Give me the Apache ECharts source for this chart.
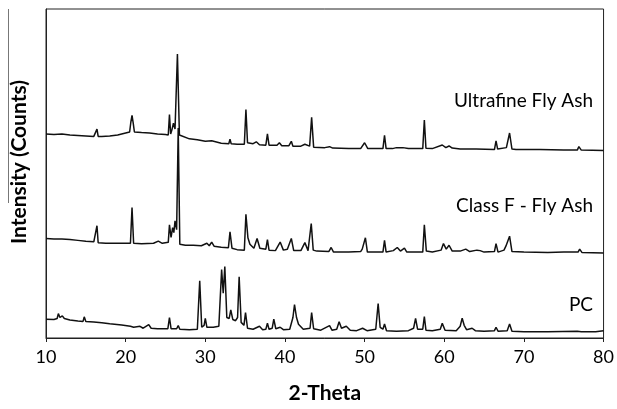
<!DOCTYPE html>
<html>
<head>
<meta charset="utf-8">
<script src="https://cdn.jsdelivr.net/npm/echarts@6/dist/echarts.min.js"></script>
<style>
    html, body { margin: 0; padding: 0; background: #fff; }
    #xrd { width: 617px; height: 409px; }
</style>
</head>
<body>
<div id="xrd"></div>
<script>
// 2-Theta tick labels
var xTicks = [10, 20, 30, 40, 50, 60, 70, 80];
var seriesNames = ['Ultrafine Fly Ash', 'Class F - Fly Ash', 'PC'];

// [2-Theta, intensity] (traces already offset)
var ultrafine = [
    [10.0, 209], [11.0, 208.5], [12.0, 209], [13.0, 208], [14.0, 207.5], [15.0, 207], [16.0, 206.5],
    [16.25, 206.5], [16.4, 214], [16.55, 206.5], [17.0, 206.5], [18.0, 207], [19.0, 208], [20.0, 210],
    [20.5, 211], [20.65, 221], [20.8, 228], [20.95, 220], [21.1, 211], [22.0, 210.5], [23.0, 210],
    [24.0, 209], [25.0, 208.5], [25.35, 208], [25.5, 229], [25.65, 209], [25.8, 213], [26.0, 220],
    [26.2, 214], [26.5, 291], [26.75, 208], [27.0, 206], [28.0, 204], [29.0, 203], [30.0, 201.5],
    [30.8, 202], [31.0, 200.5], [32.0, 199.5], [32.95, 199], [33.1, 203.7], [33.25, 199], [34.0, 198.5],
    [34.9, 198.5], [35.1, 234], [35.3, 200], [36.0, 199], [36.4, 201], [36.8, 198], [37.6, 197.5],
    [37.8, 209], [38.0, 197.5], [39.0, 197.5], [39.3, 200], [39.6, 197], [40.5, 197], [40.8, 201.5],
    [41.0, 196.5], [42.0, 196.5], [42.5, 198.5], [43.1, 196.5], [43.35, 226], [43.6, 195.5], [45.0, 195],
    [45.6, 196], [46.0, 194.5], [48.0, 194], [49.5, 194], [50.0, 200], [50.4, 194], [52.3, 194],
    [52.5, 207.7], [52.7, 194], [53.5, 194], [54.0, 195], [54.8, 195], [55.5, 194], [57.3, 194],
    [57.5, 223.3], [57.7, 194.3], [58.5, 194], [59.75, 197.7], [60.2, 195], [60.6, 196.7], [61.0, 194.5],
    [61.2, 195.5], [62.0, 193.5], [64.0, 193.5], [66.3, 193], [66.5, 202], [66.7, 193.5], [67.8, 195],
    [68.2, 210], [68.5, 193.5], [69.0, 193], [72.0, 193], [75.0, 192.5], [76.7, 192.5], [76.9, 196],
    [77.2, 192.5], [80.0, 192]
];

var classF = [
    [10.0, 102], [11.0, 101.5], [12.0, 101.5], [13.0, 101], [14.0, 100], [15.0, 99], [16.0, 98.5],
    [16.25, 98], [16.4, 115], [16.55, 97.5], [17.5, 97], [19.0, 97], [20.6, 97], [20.8, 133.7],
    [21.0, 97], [22.0, 96.5], [23.5, 97], [24.1, 99.3], [24.6, 97], [25.35, 98], [25.5, 116],
    [25.7, 103], [25.9, 113], [26.05, 108], [26.2, 120], [26.4, 111], [26.6, 215], [26.8, 96],
    [27.5, 95], [28.5, 95], [29.5, 94.5], [30.2, 97], [30.5, 94.5], [30.8, 98.3], [31.1, 94],
    [32.0, 93], [32.9, 92.5], [33.1, 108.7], [33.35, 92], [34.0, 90.5], [34.9, 90], [35.1, 126.7],
    [35.35, 102.7], [35.6, 96], [36.1, 92], [36.5, 102], [36.85, 92], [37.6, 91], [37.8, 100.7],
    [38.0, 90], [38.8, 89.5], [39.4, 98.3], [39.8, 90], [40.3, 91], [40.5, 93], [40.8, 102],
    [41.1, 89.5], [42.0, 89.5], [42.5, 97.7], [42.9, 89.5], [43.1, 91], [43.3, 117.3], [43.55, 90],
    [44.0, 89], [45.5, 88.5], [45.8, 92.7], [46.1, 88], [48.0, 88], [49.5, 88.5], [49.7, 91],
    [49.9, 89], [50.1, 102.7], [50.35, 88], [52.3, 88], [52.5, 100], [52.7, 88], [53.6, 89.5],
    [54.1, 92.7], [54.5, 89], [55.0, 92], [55.3, 88], [57.3, 88], [57.5, 116], [57.75, 89],
    [58.5, 88], [59.6, 90], [59.9, 96.7], [60.25, 91], [60.6, 95], [61.0, 89], [62.0, 89],
    [62.7, 91], [63.2, 88.5], [64.1, 90], [64.5, 89.5], [65.0, 88], [66.3, 88.5], [66.5, 96.7],
    [66.75, 88], [67.5, 90], [67.75, 94.3], [68.0, 96], [68.2, 104.3], [68.5, 88.5], [70.0, 88],
    [73.0, 87.5], [75.0, 88], [76.8, 88], [77.0, 91], [77.3, 87.5], [80.0, 87]
];

var pc = [
    [10.0, 19.3], [11.0, 19], [11.4, 20], [11.55, 25], [11.75, 21], [12.05, 22.7], [12.3, 20],
    [13.0, 18.5], [14.0, 17.5], [14.65, 17], [14.8, 21.7], [15.0, 17], [16.0, 16.5], [17.0, 15.5],
    [18.0, 14.5], [19.5, 13.3], [20.6, 12], [21.0, 11], [21.8, 12], [22.2, 10], [22.9, 13.7],
    [23.2, 10], [24.0, 9.5], [25.3, 9.5], [25.5, 21], [25.7, 9.5], [26.4, 9.5], [26.6, 12.7],
    [26.8, 9], [28.0, 8.5], [29.0, 9], [29.3, 58.7], [29.55, 11], [29.85, 13], [30.0, 20],
    [30.2, 11], [31.0, 11], [31.7, 12], [32.05, 70], [32.25, 46], [32.45, 73.3], [32.7, 21],
    [33.0, 20], [33.2, 28.7], [33.45, 19], [33.8, 17.7], [34.05, 21], [34.25, 62.7], [34.5, 16],
    [34.85, 13], [35.05, 26], [35.3, 10], [36.0, 9], [36.8, 12], [37.2, 8.5], [37.6, 9],
    [37.8, 15.3], [38.0, 9], [38.4, 10], [38.6, 19.3], [38.85, 9.5], [39.4, 11], [39.8, 8.5],
    [40.6, 9], [41.0, 21], [41.2, 34.3], [41.45, 21], [41.7, 14], [42.3, 9], [43.15, 10],
    [43.35, 26], [43.6, 9.5], [44.5, 8], [45.6, 12.7], [45.9, 8], [46.5, 9], [46.8, 16.7],
    [47.1, 10], [47.7, 12], [48.2, 8], [49.0, 7.5], [49.75, 10], [50.3, 7.5], [51.4, 9],
    [51.7, 35.3], [51.95, 11], [52.3, 9], [52.5, 14.3], [52.75, 7.5], [54.0, 7], [55.5, 7.5],
    [56.15, 10], [56.4, 20], [56.65, 9], [57.3, 9], [57.5, 22], [57.7, 8], [58.5, 7.5],
    [59.5, 9], [59.75, 15], [60.1, 8], [61.5, 7.5], [62.0, 12], [62.25, 20.3], [62.5, 13],
    [62.8, 8.5], [63.5, 10], [63.9, 7.5], [65.0, 7], [66.3, 7.5], [66.5, 11], [66.75, 7],
    [67.9, 7.5], [68.2, 14.3], [68.5, 7], [70.0, 6.5], [73.0, 6.5], [76.7, 7], [76.9, 7.7],
    [77.2, 6.5], [79.0, 6.5], [80.0, 7.5]
];

var chart = echarts.init(document.getElementById('xrd'));

function traceSeries(name, data) {
    return {
        name: name,
        type: 'line',
        data: data,
        showSymbol: false,
        symbol: 'none',
        lineStyle: { color: '#111', width: 1.5 },
        animation: false
    };
}

var option = {
    backgroundColor: '#fff',
    animation: false,
    grid: {
        left: 46,
        right: 11,
        top: 9,
        bottom: 63,
        show: true,
        borderColor: '#222',
        borderWidth: 1
    },
    xAxis: {
        type: 'value',
        min: xTicks[0],
        max: xTicks[xTicks.length - 1],
        interval: 10,
        name: '2-Theta',
        nameLocation: 'middle',
        nameGap: 45,
        nameTextStyle: { fontFamily: 'Lato', fontWeight: 'bold', fontSize: 21, color: '#000' },
        axisLine: { lineStyle: { color: '#222', width: 1 } },
        axisTick: { show: true, inside: false, length: 4, lineStyle: { color: '#222' } },
        axisLabel: { fontFamily: 'Lato', fontSize: 18, color: '#000', margin: 10 },
        splitLine: { show: false }
    },
    yAxis: {
        type: 'value',
        min: 0,
        max: 337,
        axisLine: { show: true, lineStyle: { color: '#222', width: 1 } },
        axisTick: { show: false },
        axisLabel: { show: false },
        splitLine: { show: false }
    },
    graphic: [{
        type: 'text',
        left: 9,
        top: 80,
        rotation: Math.PI / 2,
        style: {
            text: 'Intensity (Counts)',
            fontFamily: 'Lato',
            fontWeight: 'bold',
            fontSize: 21,
            fill: '#000'
        }
    }, {
        type: 'line',
        shape: { x1: 8.5, y1: 9, x2: 8.5, y2: 203 },
        style: { stroke: '#777', lineWidth: 1 }
    }, {
        type: 'text',
        right: 24,
        top: 91,
        style: { text: seriesNames[0], fontFamily: 'Lato', fontSize: 19, fill: '#000' }
    }, {
        type: 'text',
        right: 24,
        top: 196,
        style: { text: seriesNames[1], fontFamily: 'Lato', fontSize: 19, fill: '#000' }
    }, {
        type: 'text',
        right: 24,
        top: 295,
        style: { text: seriesNames[2], fontFamily: 'Lato', fontSize: 19, fill: '#000' }
    }],
    series: [
        traceSeries(seriesNames[0], ultrafine),
        traceSeries(seriesNames[1], classF),
        traceSeries(seriesNames[2], pc)
    ]
};

chart.setOption(option);
</script>
</body>
</html>
